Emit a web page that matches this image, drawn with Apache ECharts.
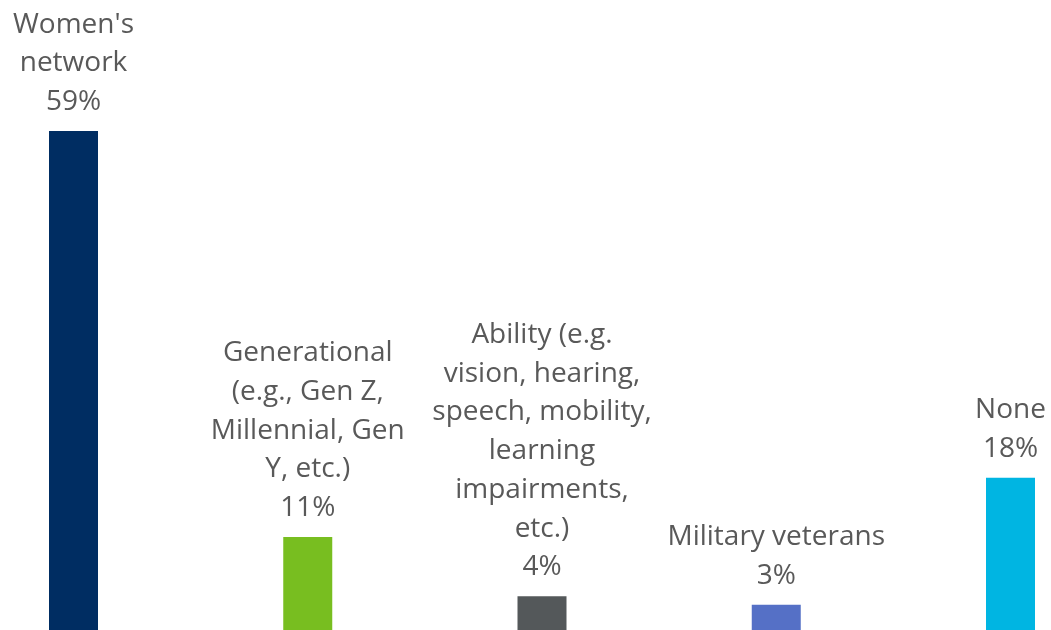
<!DOCTYPE html>
<html>
<head>
<meta charset="utf-8">
<script src="https://cdn.jsdelivr.net/npm/echarts@6/dist/echarts.min.js"></script>
<style>html,body{margin:0;padding:0;background:#fff}#c{width:1051px;height:630px}</style>
</head>
<body>
<div id="c"></div>
<script>
const categories = [
  "Women's\nnetwork",
  "Generational\n(e.g., Gen Z,\nMillennial, Gen\nY, etc.)",
  "Ability (e.g.\nvision, hearing,\nspeech, mobility,\nlearning\nimpairments,\netc.)",
  "Military veterans",
  "None"
];
const values = [59, 11, 4, 3, 18];
const colors = ['#002D62', '#78BE20', '#54585A', '#5570C6', '#00B5E2'];

const chart = echarts.init(document.getElementById('c'));
chart.setOption({
  animation: false,
  grid: { left: 73.5, right: 40.5, top: 131, bottom: 0, containLabel: false },
  xAxis: {
    type: 'category', data: categories, boundaryGap: false,
    axisLine: { show: false }, axisTick: { show: false }, axisLabel: { show: false }, splitLine: { show: false }
  },
  yAxis: {
    type: 'value', min: 0, max: 59,
    axisLine: { show: false }, axisTick: { show: false }, axisLabel: { show: false }, splitLine: { show: false }
  },
  series: [{
    type: 'bar',
    barWidth: 49,
    data: values.map((v, i) => ({ value: v, itemStyle: { color: colors[i] } })),
    label: {
      show: true, position: 'top', distance: 9.5,
      fontFamily: 'Open Sans', fontSize: 28, lineHeight: 38.7, color: '#595959',
      align: 'center',
      formatter: p => categories[p.dataIndex] + '\n' + p.value + '%'
    }
  }]
});
</script>
</body>
</html>
